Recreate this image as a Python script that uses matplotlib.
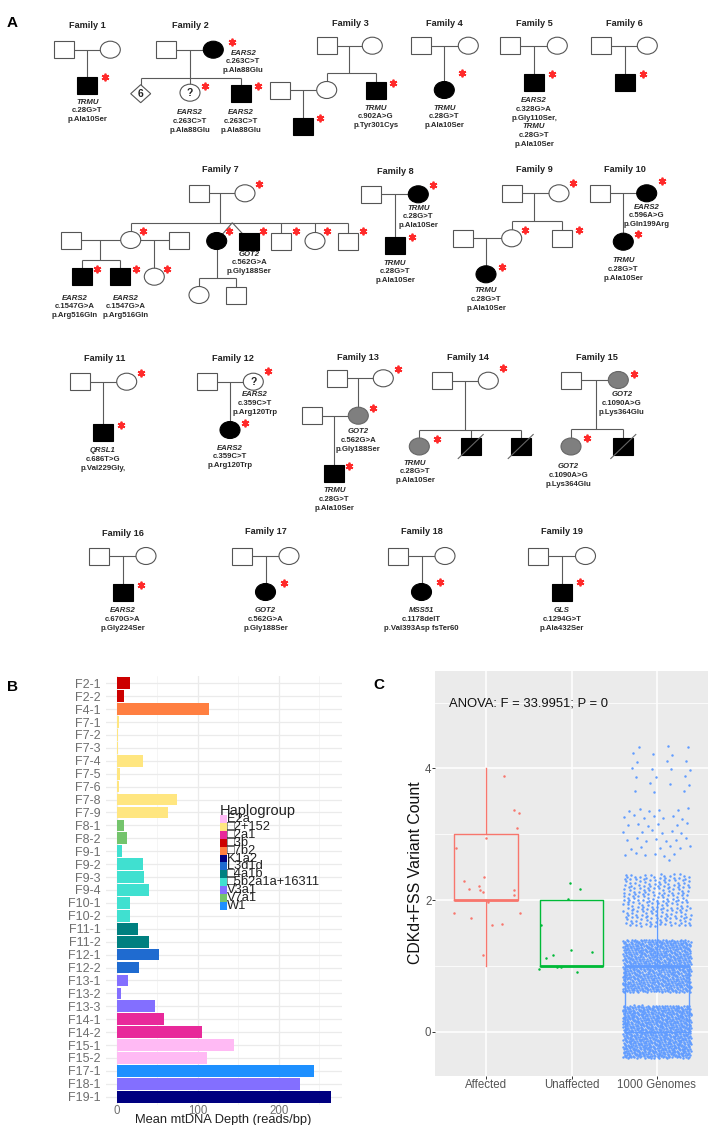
import numpy as np
import matplotlib
matplotlib.use('Agg')
import matplotlib.pyplot as plt
from matplotlib import font_manager as fm
from matplotlib.patches import Rectangle, Ellipse, Polygon

# ---------------- Panel B data ----------------
samples = ['F2-1', 'F2-2', 'F4-1', 'F7-1', 'F7-2', 'F7-3', 'F7-4', 'F7-5', 'F7-6', 'F7-8',
           'F7-9', 'F8-1', 'F8-2', 'F9-1', 'F9-2', 'F9-3', 'F9-4', 'F10-1', 'F10-2', 'F11-1',
           'F11-2', 'F12-1', 'F12-2', 'F13-1', 'F13-2', 'F13-3', 'F14-1', 'F14-2', 'F15-1',
           'F15-2', 'F17-1', 'F18-1', 'F19-1']
depth = [17, 9.5, 114, 2.7, 1.0, 1.2, 32, 4, 2.4, 75,
         63, 9, 13, 7, 33, 34, 40.5, 16, 16, 26,
         40, 52, 27.5, 13.5, 5.3, 47, 58, 105, 145,
         111, 243.5, 226, 264.5]
haplogroups = ['E2a', '\u25a12+152', '\u25a12a1', '\u25a13b', '\u25a17b2', 'K1a2', 'L3d1d',
               '\u25a14a1b', '\u25a15b2a1a+16311', 'V3a1', 'V7a1', 'W1']
hap_colors = ['#ffbaf4', '#ffe680', '#e8299a', '#cc0000', '#ff7f41', '#000080', '#1f6bd0',
              '#008080', '#40e0d0', '#836fff', '#74c46c', '#1e90ff']
sample_hap = [3, 3, 4, 1, 1, 1, 1, 1, 1, 1,
              1, 10, 10, 8, 8, 8, 8, 8, 8, 7,
              7, 6, 6, 9, 9, 9, 2, 2, 0,
              0, 11, 9, 5]

# ---------------- Panel C data ----------------
groups = ['Affected', 'Unaffected', '1000 Genomes']
group_colors = ['#F8766D', '#00BA38', '#619CFF']
box_q1 = [2, 1, 0]
box_med = [2, 1, 1]
box_q3 = [3, 2, 1]
box_lo = [1, 1, 0]
box_hi = [4, 2, 2]
affected_x = [1.21, 1.33, 1.39, 1.36, 1.00, 0.65, 0.74, 0.98, 0.80, 0.92, 0.93, 0.96, 1.33,
              1.33, 1.02, 0.62, 0.82, 1.40, 1.07, 1.18, 0.96]
affected_y = [3.89, 3.37, 3.32, 3.10, 2.94, 2.79, 2.29, 2.35, 2.17, 2.22, 2.15, 2.12, 2.16,
              2.08, 1.97, 1.81, 1.73, 1.80, 1.62, 1.63, 1.16]
unaffected_x = [1.64, 1.98, 2.10, 1.96, 1.70, 1.78, 1.99, 2.24, 1.62, 1.83, 1.88, 2.06]
unaffected_y = [1.62, 2.26, 2.17, 2.01, 1.12, 1.16, 1.24, 1.21, 0.96, 0.98, 0.99, 0.90]
g1000_levels = [0, 1, 2, 3, 4]
g1000_counts = [900, 800, 230, 45, 22]
anova_text = 'ANOVA: F = 33.9951; P = 0'

# ---------------- Panel A (pedigrees) ----------------
family_titles = [('Family 1', 87.3, 25), ('Family 2', 190, 25), ('Family 3', 350, 24),
                 ('Family 4', 444.5, 23), ('Family 5', 534, 24), ('Family 6', 624.7, 24),
                 ('Family 7', 220, 170), ('Family 8', 395, 171), ('Family 9', 534.3, 170),
                 ('Family 10', 625, 169), ('Family 11', 105, 358.3), ('Family 12', 233.3, 358.3),
                 ('Family 13', 358, 357), ('Family 14', 468.3, 357.3), ('Family 15', 596.7, 357.3),
                 ('Family 16', 123, 534), ('Family 17', 265.5, 532), ('Family 18', 421.5, 532),
                 ('Family 19', 562, 532)]

# x, y, shape (sq/ci/di), fill (w/k/g), mark, deceased
individuals = [
    (63.7, 49.7, 'sq', 'w', '', 0), (110.3, 49.7, 'ci', 'w', '', 0), (87.3, 85.3, 'sq', 'k', '', 0),
    (166, 49.7, 'sq', 'w', '', 0), (213.3, 49.7, 'ci', 'k', '', 0), (140.7, 93.7, 'di', 'w', '6', 0),
    (190, 92.7, 'ci', 'w', '?', 0), (240.7, 93.7, 'sq', 'k', '', 0),
    (327.3, 45.7, 'sq', 'w', '', 0), (372.3, 45.7, 'ci', 'w', '', 0), (326.7, 90, 'ci', 'w', '', 0),
    (375.7, 90, 'sq', 'k', '', 0), (280, 90, 'sq', 'w', '', 0), (302.7, 126, 'sq', 'k', '', 0),
    (420.7, 45.7, 'sq', 'w', '', 0), (468.3, 45.7, 'ci', 'w', '', 0), (444.3, 90, 'ci', 'k', '', 0),
    (510, 45.7, 'sq', 'w', '', 0), (557.3, 45.7, 'ci', 'w', '', 0), (534, 82.7, 'sq', 'k', '', 0),
    (601, 45.7, 'sq', 'w', '', 0), (647.3, 45.7, 'ci', 'w', '', 0), (624.7, 82.7, 'sq', 'k', '', 0),
    (199, 193.3, 'sq', 'w', '', 0), (245, 193.3, 'ci', 'w', '', 0), (130.7, 240, 'ci', 'w', '', 0),
    (71, 240, 'sq', 'w', '', 0), (179, 240, 'sq', 'w', '', 0), (216.7, 241, 'ci', 'k', '', 0),
    (249.3, 241, 'sq', 'k', '', 0), (281, 241, 'sq', 'w', '', 0), (315, 241, 'ci', 'w', '', 0),
    (348.3, 241, 'sq', 'w', '', 0), (81.7, 276.7, 'sq', 'k', '', 0), (120, 276.7, 'sq', 'k', '', 0),
    (154.3, 276.7, 'ci', 'w', '', 0), (199, 295, 'ci', 'w', '', 0), (236, 295, 'sq', 'w', '', 0),
    (370.7, 194.3, 'sq', 'w', '', 0), (418.3, 194.3, 'ci', 'k', '', 0), (395, 245, 'sq', 'k', '', 0),
    (511.7, 193.3, 'sq', 'w', '', 0), (559, 193.3, 'ci', 'w', '', 0), (511.7, 238.3, 'ci', 'w', '', 0),
    (561.7, 238.3, 'sq', 'w', '', 0), (463.3, 238.3, 'sq', 'w', '', 0), (486, 274.3, 'ci', 'k', '', 0),
    (600, 193.3, 'sq', 'w', '', 0), (646.7, 193.3, 'ci', 'k', '', 0), (623.3, 241.7, 'ci', 'k', '', 0),
    (80, 381.7, 'sq', 'w', '', 0), (126.7, 381.7, 'ci', 'w', '', 0), (102.7, 432.3, 'sq', 'k', '', 0),
    (206.7, 381.7, 'sq', 'w', '', 0), (253.3, 381.7, 'ci', 'w', '?', 0), (230, 430, 'ci', 'k', '', 0),
    (336.5, 378.3, 'sq', 'w', '', 0), (383.3, 378.3, 'ci', 'w', '', 0), (358.3, 415.7, 'ci', 'g', '', 0),
    (311.7, 415.5, 'sq', 'w', '', 0), (334.3, 473, 'sq', 'k', '', 0),
    (441.7, 380.7, 'sq', 'w', '', 0), (488.3, 380.7, 'ci', 'w', '', 0), (419.3, 446.5, 'ci', 'g', '', 0),
    (470.7, 446.5, 'sq', 'k', '', 1), (520.7, 446.5, 'sq', 'k', '', 1),
    (570.7, 380, 'sq', 'w', '', 0), (618.3, 380, 'ci', 'g', '', 0), (571, 446.5, 'ci', 'g', '', 0),
    (623.3, 446.5, 'sq', 'k', '', 1),
    (99, 556, 'sq', 'w', '', 0), (146, 556, 'ci', 'w', '', 0), (122.5, 592, 'sq', 'k', '', 0),
    (242, 556, 'sq', 'w', '', 0), (289, 556, 'ci', 'w', '', 0), (265.5, 592, 'ci', 'k', '', 0),
    (398, 556, 'sq', 'w', '', 0), (445, 556, 'ci', 'w', '', 0), (421.5, 592, 'ci', 'k', '', 0),
    (538, 556, 'sq', 'w', '', 0), (585.5, 556, 'ci', 'w', '', 0), (562, 592, 'sq', 'k', '', 0),
]

segments = [
    (63.7, 49.7, 110.3, 49.7), (87.3, 49.7, 87.3, 85.3),
    (166, 49.7, 213.3, 49.7), (190, 49.7, 190, 77.7), (140.7, 77.7, 240.7, 77.7),
    (140.7, 77.7, 140.7, 93.7), (190, 77.7, 190, 92.7), (240.7, 77.7, 240.7, 93.7),
    (327.3, 45.7, 372.3, 45.7), (349, 45.7, 349, 73.3), (326.7, 73.3, 375.7, 73.3),
    (326.7, 73.3, 326.7, 90), (375.7, 73.3, 375.7, 90), (280, 90, 326.7, 90), (302.7, 90, 302.7, 126),
    (420.7, 45.7, 468.3, 45.7), (444.3, 45.7, 444.3, 90),
    (510, 45.7, 557.3, 45.7), (534, 45.7, 534, 82.7),
    (601, 45.7, 647.3, 45.7), (624.7, 45.7, 624.7, 82.7),
    (199, 193.3, 245, 193.3), (220, 193.3, 220, 222.7), (130.7, 222.7, 348.3, 222.7),
    (130.7, 222.7, 130.7, 240), (281, 222.7, 281, 241), (315, 222.7, 315, 241), (348.3, 222.7, 348.3, 241),
    (232.3, 222.7, 216.7, 241), (232.3, 222.7, 249.3, 241),
    (71, 240, 179, 240), (100, 240, 100, 260), (81.7, 260, 120, 260),
    (81.7, 260, 81.7, 276.7), (120, 260, 120, 276.7), (154.3, 240, 154.3, 276.7),
    (216.7, 241, 216.7, 277.7), (199, 277.7, 236, 277.7), (199, 277.7, 199, 295), (236, 277.7, 236, 295),
    (370.7, 194.3, 418.3, 194.3), (395, 194.3, 395, 245),
    (511.7, 193.3, 559, 193.3), (534.3, 193.3, 534.3, 221), (511.7, 221, 561.7, 221),
    (511.7, 221, 511.7, 238.3), (561.7, 221, 561.7, 238.3), (463.3, 238.3, 511.7, 238.3),
    (486, 238.3, 486, 274.3),
    (600, 193.3, 646.7, 193.3), (623.3, 193.3, 623.3, 241.7),
    (80, 381.7, 126.7, 381.7), (102.7, 381.7, 102.7, 432.3),
    (206.7, 381.7, 253.3, 381.7), (230, 381.7, 230, 430),
    (336.5, 378.3, 383.3, 378.3), (358.3, 378.3, 358.3, 415.7), (311.7, 415.5, 358.3, 415.5),
    (334.3, 415.5, 334.3, 473),
    (441.7, 380.7, 488.3, 380.7), (465, 380.7, 465, 430), (419.3, 430, 520.7, 430),
    (419.3, 430, 419.3, 446.5), (470.7, 430, 470.7, 446.5), (520.7, 430, 520.7, 446.5),
    (570.7, 380, 618.3, 380), (595.7, 380, 595.7, 429), (571, 429, 623.3, 429),
    (571, 429, 571, 446.5), (623.3, 429, 623.3, 446.5),
    (99, 556, 146, 556), (122.5, 556, 122.5, 592),
    (242, 556, 289, 556), (265.5, 556, 265.5, 592),
    (398, 556, 445, 556), (421.5, 556, 421.5, 592),
    (538, 556, 585.5, 556), (562, 556, 562, 592),
]

asterisks = [(105.3, 77.3), (231.7, 42.3), (204.7, 86), (258.3, 86), (392.7, 82.7), (320, 118.3),
             (462, 73.3), (552.3, 74), (642.7, 74),
             (259.3, 184.3), (142.7, 231), (228.7, 231), (263.3, 231), (296, 231), (326.7, 231),
             (363.3, 231), (96.7, 269), (135.7, 269), (166.7, 269),
             (432.7, 185), (412.3, 237), (573.3, 183.3), (525, 230), (578.7, 230), (501.7, 266.7),
             (661.7, 181), (638.3, 234.3),
             (141, 372.7), (121, 425), (268.3, 371), (245, 423.3), (398.3, 369.3), (373.3, 407.7),
             (349.3, 465.7), (503.3, 368.3), (436.7, 439), (634, 374), (586.7, 437.7),
             (141, 585), (283.5, 583), (440, 582), (580, 582)]

TRMU28 = ['TRMU', 'c.28G>T', 'p.Ala10Ser']
EARS263 = ['EARS2', 'c.263C>T', 'p.Ala88Glu']
variant_labels = [
    (87.3, 102.3, TRMU28), (243.3, 53.3, EARS263), (190, 112.7, EARS263), (240.7, 112.7, EARS263),
    (375.7, 108.3, ['TRMU', 'c.902A>G', 'p.Tyr301Cys']), (444.3, 108.3, TRMU28),
    (534, 100.7, ['EARS2', 'c.328G>A', 'p.Gly110Ser,', 'TRMU', 'c.28G>T', 'p.Ala10Ser']),
    (249.3, 254.3, ['GOT2', 'c.562G>A', 'p.Gly188Ser']),
    (75, 298.3, ['EARS2', 'c.1547G>A', 'p.Arg516Gln']), (126, 298.3, ['EARS2', 'c.1547G>A', 'p.Arg516Gln']),
    (418.3, 208.3, TRMU28), (395, 263.3, TRMU28), (486, 291, TRMU28),
    (646.7, 207.3, ['EARS2', 'c.596A>G', 'p.Gln199Arg']), (623.3, 261, TRMU28),
    (102.7, 450.7, ['QRSL1', 'c.686T>G', 'p.Val229Gly,']),
    (255, 395, ['EARS2', 'c.359C>T', 'p.Arg120Trp']), (230, 448.3, ['EARS2', 'c.359C>T', 'p.Arg120Trp']),
    (358.3, 431.7, ['GOT2', 'c.562G>A', 'p.Gly188Ser']), (334.3, 490.7, TRMU28),
    (415, 463.3, TRMU28),
    (621.7, 395, ['GOT2', 'c.1090A>G', 'p.Lys364Glu']), (568.3, 466.7, ['GOT2', 'c.1090A>G', 'p.Lys364Glu']),
    (122.5, 610.7, ['EARS2', 'c.670G>A', 'p.Gly224Ser']),
    (265.5, 610.7, ['GOT2', 'c.562G>A', 'p.Gly188Ser']),
    (421.5, 610.7, ['MSS51', 'c.1178delT', 'p.Val393Asp fsTer60']),
    (562, 610.7, ['GLS', 'c.1294G>T', 'p.Ala432Ser']),
]
genes = {'TRMU', 'EARS2', 'GOT2', 'QRSL1', 'MSS51', 'GLS'}

# ---------------- fonts ----------------
names = {f.name for f in fm.fontManager.ttflist}
HAS_NARROW = 'Liberation Sans Narrow' in names
NARROW = ['Liberation Sans Narrow', 'DejaVu Sans'] if HAS_NARROW else ['Liberation Sans', 'DejaVu Sans']
SANS = ['Liberation Sans', 'DejaVu Sans']
plt.rcParams['font.family'] = SANS
TICK_C = 10 if HAS_NARROW else 8.3
ANOVA_FS = 11.4 if HAS_NARROW else 9.4

W, H = 709, 1125
fig = plt.figure(figsize=(W / 100, H / 100), dpi=100)

# ---------------- Panel B ----------------
axB = fig.add_axes([106 / W, (H - 1104.5) / H, 235.7 / W, 429 / H], facecolor='none')
ypos = np.arange(len(samples))
axB.barh(ypos, depth, height=0.9, color=[hap_colors[i] for i in sample_hap], zorder=2)
axB.set_ylim(len(samples) - 0.4, -0.6)
axB.set_xlim(-13.2, 277.8)
axB.set_yticks(ypos)
axB.set_yticklabels(samples)
axB.set_xticks([0, 100, 200])
axB.set_xticks([50, 150, 250], minor=True)
axB.grid(which='major', color='#ebebeb', lw=0.9, zorder=0)
axB.grid(which='minor', axis='x', color='#f2f2f2', lw=0.5, zorder=0)
axB.set_axisbelow(True)
for s in axB.spines.values():
    s.set_visible(False)
axB.tick_params(which='both', length=0, labelsize=9, labelcolor='#6e6e6e', pad=4)
axB.tick_params(axis='x', labelsize=8.3, pad=0.5)

# ---------------- Panel C ----------------
axC = fig.add_axes([435 / W, (H - 1075.7) / H, 273 / W, (1075.7 - 671) / H], facecolor='#ebebeb')
axC.set_xlim(0.4, 3.6)
axC.set_ylim(-0.668, 5.479)
axC.set_xticks([1, 2, 3])
axC.set_xticklabels(groups, fontfamily=NARROW, fontsize=TICK_C)
axC.set_yticks([0, 2, 4])
axC.set_yticklabels(['0', '2', '4'], fontfamily=NARROW, fontsize=TICK_C)
axC.set_yticks([1, 3, 5], minor=True)
axC.grid(which='major', color='white', lw=1.1, zorder=0)
axC.grid(which='minor', axis='y', color='white', lw=0.55, zorder=0)
axC.set_axisbelow(True)
for s in axC.spines.values():
    s.set_visible(False)
axC.tick_params(which='major', length=2, width=0.7, color='#333333', labelcolor='#555555', pad=0.6)
axC.tick_params(which='minor', length=0)

axC.scatter(affected_x, affected_y, s=3.2, color=group_colors[0], linewidths=0, zorder=3)
axC.scatter(unaffected_x, unaffected_y, s=3.2, color=group_colors[1], linewidths=0, zorder=3)
# deterministic (quasi-uniform) jitter layout for the 1000 Genomes counts
gphi = 1.32471795724474602596
a1, a2 = 1 / gphi, 1 / gphi ** 2
gx, gy = [], []
k = 0
for lvl, n in zip(g1000_levels, g1000_counts):
    for _ in range(n):
        k += 1
        gx.append(3 + ((0.5 + k * a1) % 1 - 0.5) * 0.8)
        gy.append(lvl + ((0.5 + k * a2) % 1 - 0.5) * 0.8)
axC.scatter(gx, gy, s=3.2, color=group_colors[2], linewidths=0, zorder=3)

stats = [dict(med=m, q1=a, q3=b, whislo=lo, whishi=hi, fliers=[])
         for m, a, b, lo, hi in zip(box_med, box_q1, box_q3, box_lo, box_hi)]
bp = axC.bxp(stats, positions=[1, 2, 3], widths=0.75, showcaps=False, patch_artist=False,
             manage_ticks=False, zorder=4)
for i, c in enumerate(group_colors):
    bp['boxes'][i].set(color=c, lw=1.0)
    bp['medians'][i].set(color=c, lw=2.0)
    bp['whiskers'][2 * i].set(color=c, lw=1.0)
    bp['whiskers'][2 * i + 1].set(color=c, lw=1.0)
axC.text(0.563, 4.98, anova_text, ha='left', va='center', fontfamily=NARROW,
         fontsize=ANOVA_FS, color='#111111')

# ---------------- Overlay (pedigrees, labels, legend) ----------------
axA = fig.add_axes([0, 0, 1, 1], facecolor='none', zorder=10)
axA.set_xlim(0, W)
axA.set_ylim(H, 0)
axA.axis('off')

for x1, y1, x2, y2 in segments:
    axA.plot([x1, x2], [y1, y2], color='#5a5a5a', lw=0.8, zorder=1, solid_capstyle='butt')

fills = {'w': ('white', '#555555'), 'k': ('black', 'black'), 'g': ('#7f7f7f', '#666666')}
SW, SH = 20, 17
for x, y, shp, f, mark, dec in individuals:
    fc, ec = fills[f]
    if shp == 'sq':
        p = Rectangle((x - SW / 2, y - SH / 2), SW, SH, fc=fc, ec=ec, lw=0.8, zorder=2)
    elif shp == 'ci':
        p = Ellipse((x, y), SW, SH, fc=fc, ec=ec, lw=0.8, zorder=2)
    else:
        p = Polygon([(x - 10, y), (x, y - 9), (x + 10, y), (x, y + 9)], closed=True,
                    fc=fc, ec=ec, lw=0.8, zorder=2)
    axA.add_patch(p)
    if mark:
        axA.text(x, y + 0.5, mark, ha='center', va='center', fontsize=7.5, fontweight='bold',
                 color='#222222', zorder=3)
    if dec:
        axA.plot([x - 12.5, x + 12.5], [y + 12, y - 12], color='#666666', lw=0.8, zorder=3)

ax_x = [a[0] for a in asterisks]
ax_y = [a[1] for a in asterisks]
axA.plot(ax_x, ax_y, ls='none', marker=(6, 2, 0), ms=5.5, mew=1.3, color='#ff2a2a', zorder=4)

for title, x, y in family_titles:
    axA.text(x, y, title, ha='center', va='center', fontsize=6.6, fontweight='bold', color='#222222')

for x, y0, lines in variant_labels:
    for i, line in enumerate(lines):
        axA.text(x, y0 + i * 8.67, line, ha='center', va='center', fontsize=5.6, fontweight='bold',
                 fontstyle='italic' if line in genes else 'normal', color='#2a2a2a')

# panel letters
for letter, x, y in [('A', 7, 23), ('B', 7.3, 687), ('C', 373.3, 685)]:
    axA.text(x, y, letter, ha='left', va='center', fontsize=11, fontweight='bold', color='black')

# axis titles
axA.text(223.3, 1120, 'Mean mtDNA Depth (reads/bp)', ha='center', va='center', fontsize=9.3,
         color='#222222')
axA.text(416, 873, 'CDKd+FSS Variant Count', ha='center', va='center', rotation=90, fontsize=11.4,
         color='#111111')

# legend for panel B
axA.text(220, 811, 'Haplogroup', ha='left', va='center', fontsize=10.5, color='#222222')
step = 7.85
for i, (lab, c) in enumerate(zip(haplogroups, hap_colors)):
    yc = 819.3 + i * step
    axA.add_patch(Rectangle((220, yc - step / 2), 6.5, step, fc=c, ec='none', zorder=5))
    axA.text(227, yc, lab, ha='left', va='center', fontsize=9.3, color='#222222', zorder=6)

fig.savefig('out.png', dpi=100)
